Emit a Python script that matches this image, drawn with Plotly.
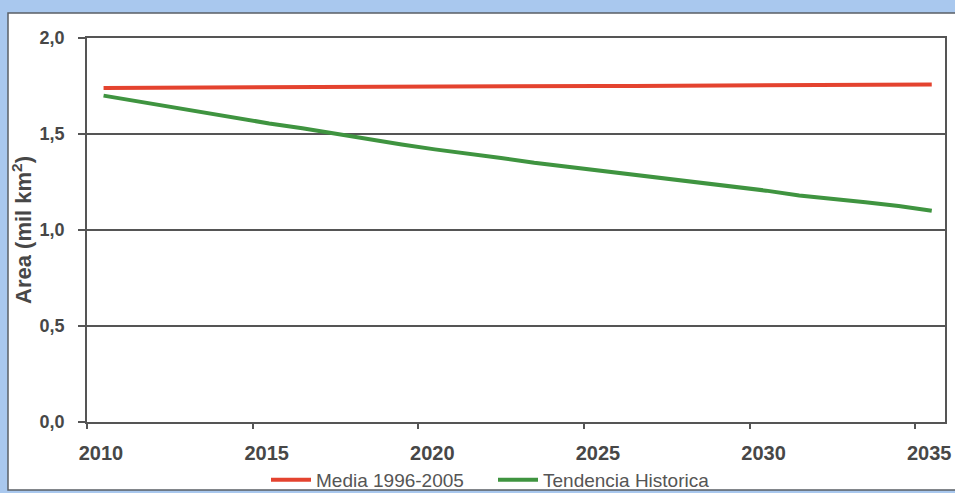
import plotly.graph_objects as go

years = [2010.5 + i for i in range(26)]
media = [1.740, 1.741, 1.741, 1.742, 1.742, 1.743, 1.744, 1.744, 1.745, 1.746,
         1.746, 1.747, 1.748, 1.748, 1.749, 1.750, 1.750, 1.751, 1.752, 1.752,
         1.753, 1.754, 1.755, 1.756, 1.757, 1.758]
tendencia = [1.70, 1.67, 1.64, 1.61, 1.585, 1.555, 1.53, 1.50, 1.475, 1.445,
             1.42, 1.40, 1.375, 1.35, 1.33, 1.31, 1.285, 1.265, 1.245, 1.225,
             1.205, 1.18, 1.165, 1.145, 1.125, 1.10]
x_ticks = [2010, 2015, 2020, 2025, 2030, 2035]
y_ticks = [0.0, 0.5, 1.0, 1.5, 2.0]

axis_col = "#555555"
text_col = "#474747"
FONT = "Liberation Sans, Arial, sans-serif"

L, R, T, B = 87, 945, 38, 422
W, H = R - L, B - T

fig = go.Figure()
fig.add_trace(go.Scatter(x=years, y=media, mode="lines", name="Media 1996-2005",
                         line=dict(color="#e4432f", width=4)))
fig.add_trace(go.Scatter(x=years, y=tendencia, mode="lines", name="Tendencia Historica",
                         line=dict(color="#3f9440", width=4)))

# white panel on blue background
fig.add_shape(type="rect", xref="paper", yref="paper",
              x0=(8 - L) / W, x1=(960 - L) / W,
              y0=(B - 490) / H, y1=(B - 13) / H,
              fillcolor="white", line=dict(color="#5a5f66", width=1.5), layer="below")

fig.update_layout(
    width=955, height=493,
    margin=dict(l=L, r=955 - R, t=T, b=493 - B, autoexpand=False),
    paper_bgcolor="#a9c8ee",
    plot_bgcolor="white",
    separators=",.",
    font=dict(family=FONT, color=text_col),
    showlegend=True,
    legend=dict(orientation="h", xref="container", yref="container",
                x=266 / 955, y=1 - 480 / 493, xanchor="left", yanchor="middle",
                font=dict(size=19, color="#555555", family=FONT), bgcolor="rgba(0,0,0,0)",
                itemwidth=40, entrywidth=172),
    xaxis=dict(range=[2010, 2035.9], tickvals=x_ticks, ticktext=[str(v) for v in x_ticks],
               automargin=False,
               showgrid=False, zeroline=False, showline=True, mirror=True,
               linecolor=axis_col, linewidth=1.5,
               ticks="outside", ticklen=5, tickcolor=axis_col, tickwidth=1.5,
               tickfont=dict(size=20, color=text_col, family=FONT, weight="bold"),
               ticklabelshift=14, ticklabelstandoff=7),
    yaxis=dict(range=[0, 2], tickvals=y_ticks, tickformat=".1f",
               automargin=False,
               showgrid=True, gridcolor=axis_col, gridwidth=1.5,
               zeroline=False, showline=True, mirror=True,
               linecolor=axis_col, linewidth=1.5,
               ticks="outside", ticklen=7, tickcolor=axis_col, tickwidth=1.5,
               tickfont=dict(size=18, color=text_col, family=FONT, weight="bold"),
               ticklabelstandoff=10,
               title=dict(text="Area (mil km<sup>2</sup>)", standoff=2,
                          font=dict(size=22, color=text_col, family=FONT, weight="bold"))),
)

fig.write_html("out.html", post_script="document.body.style.margin='0';",
               config={"displayModeBar": False})
